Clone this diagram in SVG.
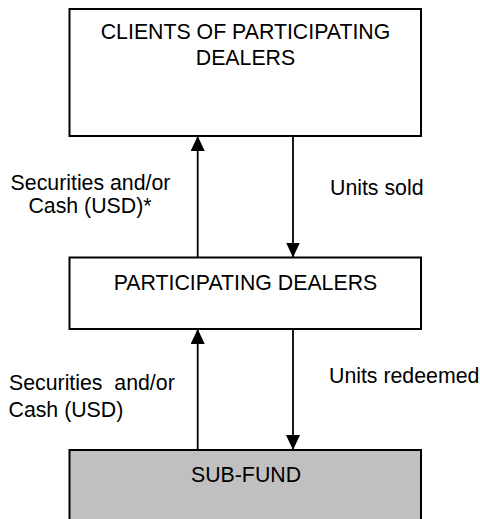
<svg xmlns="http://www.w3.org/2000/svg" width="480" height="519" viewBox="0 0 480 519">
<style>
.box{fill:#fff;stroke:#000;stroke-width:2}
.shade{fill:#c0c0c0;stroke:#000;stroke-width:2}
.t{font-family:"Liberation Sans",Arial,sans-serif;font-size:21.3px;fill:#000}
.c{text-anchor:middle}
.ln{stroke:#000;stroke-width:1.8;fill:none}
</style>
<defs>
<marker id="ah" viewBox="0 0 15 14" refX="15" refY="7" markerWidth="15" markerHeight="14" markerUnits="userSpaceOnUse" orient="auto">
<path d="M0,0 L15,7 L0,14 Z" fill="#000"/>
</marker>
</defs>
<g id="clients">
<rect class="box" x="69.5" y="9" width="351.5" height="127"/>
<text class="t c" x="245.5" y="38.5">CLIENTS OF PARTICIPATING</text>
<text class="t c" x="245.5" y="65">DEALERS</text>
</g>
<g id="dealers">
<rect class="box" x="69.5" y="257.5" width="351.5" height="71.5"/>
<text class="t c" x="245.5" y="290">PARTICIPATING DEALERS</text>
</g>
<g id="subfund">
<rect class="shade" x="69.5" y="450" width="351.5" height="80"/>
<text class="t c" x="246" y="481.5">SUB-FUND</text>
</g>
<g id="connectors">
<line class="ln" x1="197.7" y1="257.5" x2="197.7" y2="136" marker-end="url(#ah)"/>
<line class="ln" x1="293" y1="136" x2="293" y2="257.5" marker-end="url(#ah)"/>
<line class="ln" x1="197.7" y1="450" x2="197.7" y2="329" marker-end="url(#ah)"/>
<line class="ln" x1="293" y1="329" x2="293" y2="450" marker-end="url(#ah)"/>
<text class="t c" x="90.5" y="189.5">Securities and/or</text>
<text class="t c" x="90" y="213">Cash (USD)*</text>
<text class="t" x="330" y="195">Units sold</text>
<text class="t" x="9" y="390" xml:space="preserve">Securities  and/or</text>
<text class="t" x="8.5" y="416.5">Cash (USD)</text>
<text class="t" x="329" y="382.5">Units redeemed</text>
</g>
</svg>
